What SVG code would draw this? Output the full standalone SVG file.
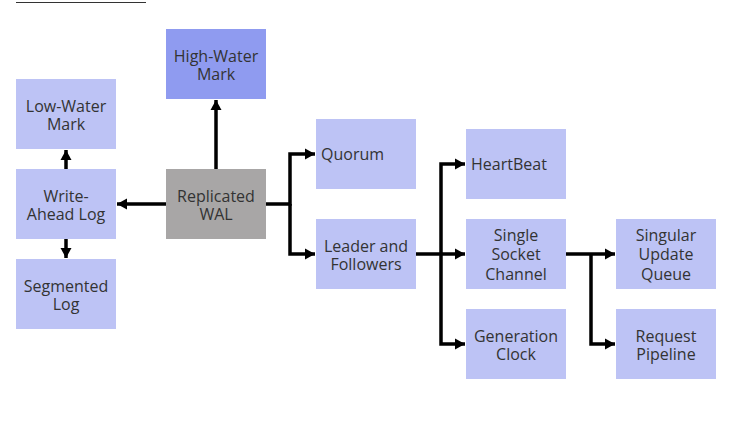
<svg xmlns="http://www.w3.org/2000/svg" width="733" height="436" viewBox="0 0 733 436">
<style>
.n{fill:#bdc3f5}
.hw{fill:#8f9bf0}
.g{fill:#a8a6a6}
text{font-family:"Open Sans","Noto Sans","Liberation Sans",sans-serif;font-size:16px;fill:#333;text-anchor:middle}
text.l{text-anchor:start}
.c{fill:none;stroke:#000;stroke-width:3.5;stroke-linejoin:miter}
</style>
<defs>
<marker id="a" markerUnits="userSpaceOnUse" markerWidth="12" markerHeight="12" viewBox="0 0 12 12" refX="11" refY="6" orient="auto">
<path d="M1,0.5 L11,6 L1,11.5 Z" fill="#000"/>
</marker>
</defs>
<rect width="733" height="436" fill="#fff"/>
<line x1="16" y1="2.5" x2="146" y2="2.5" stroke="#333" stroke-width="1"/>
<g id="connectors">
<path class="c" d="M216,169 V100" marker-end="url(#a)"/>
<path class="c" d="M166,204 H117" marker-end="url(#a)"/>
<path class="c" d="M66,169 V150" marker-end="url(#a)"/>
<path class="c" d="M66,239 V258" marker-end="url(#a)"/>
<path class="c" d="M266,204 H290 V154 H315" marker-end="url(#a)"/>
<path class="c" d="M290,204 V254 H315" marker-end="url(#a)"/>
<path class="c" d="M416,254 H465" marker-end="url(#a)"/>
<path class="c" d="M441,254 V164 H465" marker-end="url(#a)"/>
<path class="c" d="M441,254 V344 H465" marker-end="url(#a)"/>
<path class="c" d="M566,254 H615" marker-end="url(#a)"/>
<path class="c" d="M591,254 V344 H615" marker-end="url(#a)"/>
</g>
<g id="high-water-mark"><rect class="hw" x="166" y="29" width="100" height="70"/><text x="216" y="61.5">High-Water</text><text x="216" y="80">Mark</text></g>
<g id="low-water-mark"><rect class="n" x="16" y="79" width="100" height="70"/><text x="66" y="111.5">Low-Water</text><text x="66" y="130">Mark</text></g>
<g id="write-ahead-log"><rect class="n" x="16" y="169" width="100" height="70"/><text x="66" y="201.5">Write-</text><text x="66" y="220">Ahead Log</text></g>
<g id="replicated-wal"><rect class="g" x="166" y="169" width="100" height="70"/><text x="216" y="201.5">Replicated</text><text x="216" y="220">WAL</text></g>
<g id="segmented-log"><rect class="n" x="16" y="259" width="100" height="70"/><text x="66" y="291.5">Segmented</text><text x="66" y="310">Log</text></g>
<g id="quorum"><rect class="n" x="316" y="119" width="100" height="70"/><text class="l" x="321" y="159.5">Quorum</text></g>
<g id="leader-and-followers"><rect class="n" x="316" y="219" width="100" height="70"/><text x="366" y="251.5">Leader and</text><text x="366" y="270">Followers</text></g>
<g id="heartbeat"><rect class="n" x="466" y="129" width="100" height="70"/><text class="l" x="471" y="169.5">HeartBeat</text></g>
<g id="single-socket-channel"><rect class="n" x="466" y="219" width="100" height="70"/><text x="516" y="241">Single</text><text x="516" y="260">Socket</text><text x="516" y="279.5">Channel</text></g>
<g id="generation-clock"><rect class="n" x="466" y="309" width="100" height="70"/><text x="516" y="341.5">Generation</text><text x="516" y="360">Clock</text></g>
<g id="singular-update-queue"><rect class="n" x="616" y="219" width="100" height="70"/><text x="666" y="241">Singular</text><text x="666" y="260">Update</text><text x="666" y="279.5">Queue</text></g>
<g id="request-pipeline"><rect class="n" x="616" y="309" width="100" height="70"/><text x="666" y="341.5">Request</text><text x="666" y="360">Pipeline</text></g>
</svg>
